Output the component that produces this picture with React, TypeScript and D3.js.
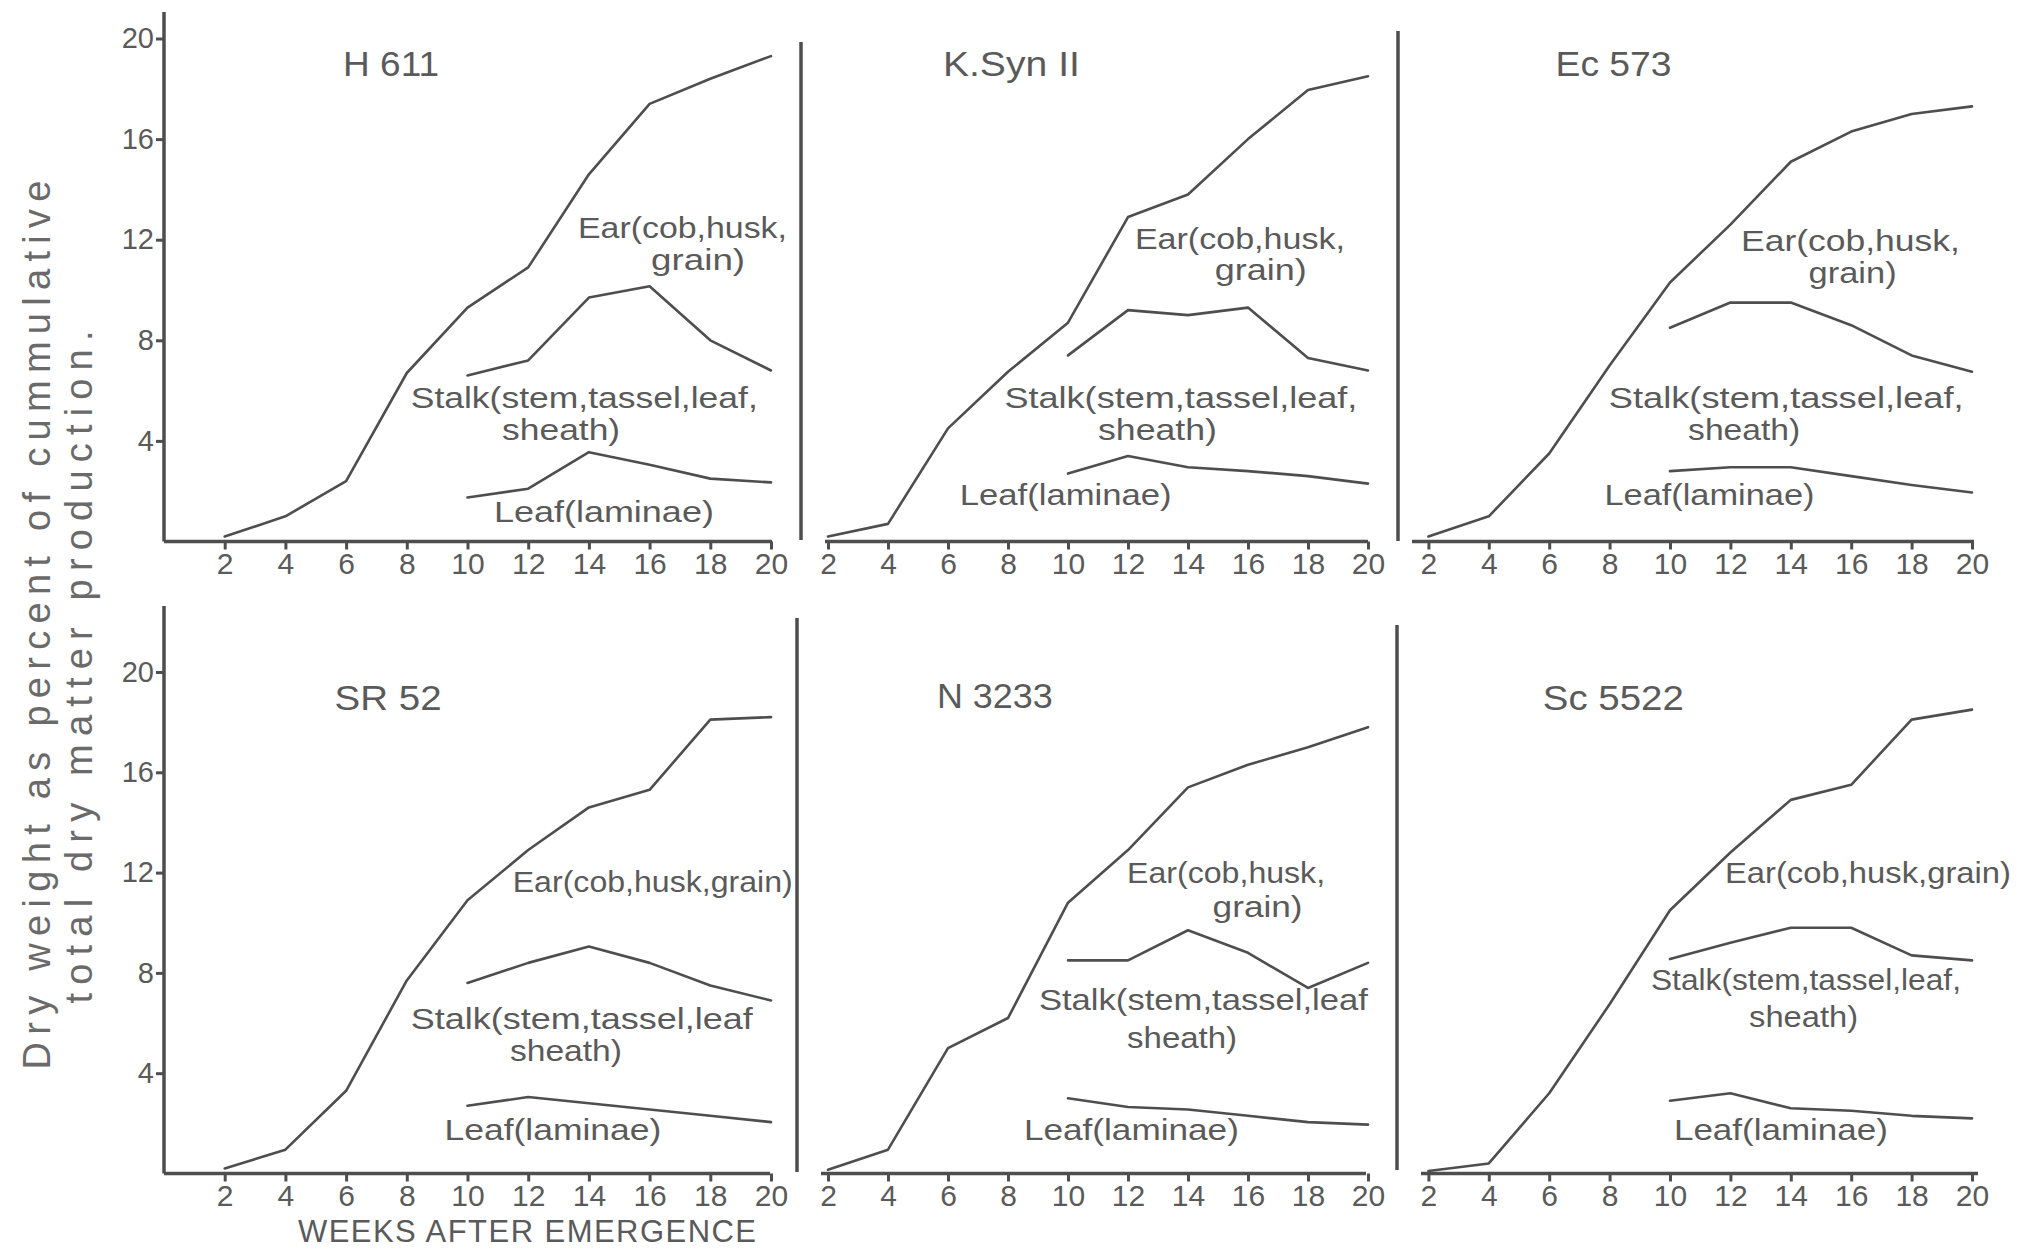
import React, { useEffect, useRef } from "react";
import * as d3 from "d3";

// ---------- DATA ----------
const weeks = [2, 4, 6, 8, 10, 12, 14, 16, 18, 20];
const laterWeeks = [10, 12, 14, 16, 18, 20];
const xTickValues = [2, 4, 6, 8, 10, 12, 14, 16, 18, 20];
const yTickValues = [4, 8, 12, 16, 20];
const varieties = ["H 611", "K.Syn II", "Ec 573", "SR 52", "N 3233", "Sc 5522"];

const earH611 = [0.2, 1.0, 2.4, 6.7, 9.3, 10.9, 14.6, 17.4, 18.4, 19.3];
const stalkH611 = [6.6, 7.2, 9.7, 10.15, 8.0, 6.8];
const leafH611 = [1.75, 2.1, 3.55, 3.05, 2.5, 2.35];

const earKSyn = [0.2, 0.7, 4.5, 6.75, 8.7, 12.9, 13.8, 16.0, 17.95, 18.5];
const stalkKSyn = [7.4, 9.2, 9.0, 9.3, 7.3, 6.8];
const leafKSyn = [2.7, 3.4, 2.95, 2.8, 2.6, 2.3];

const earEc573 = [0.2, 1.0, 3.5, 7.0, 10.3, 12.6, 15.1, 16.3, 17.0, 17.3];
const stalkEc573 = [8.5, 9.5, 9.5, 8.6, 7.4, 6.75];
const leafEc573 = [2.8, 2.95, 2.95, 2.6, 2.25, 1.95];

const earSR52 = [0.2, 0.95, 3.3, 7.7, 10.9, 12.9, 14.6, 15.3, 18.1, 18.2];
const stalkSR52 = [7.6, 8.4, 9.05, 8.4, 7.5, 6.9];
const leafSR52 = [2.7, 3.05, 2.8, 2.55, 2.3, 2.05];

const earN3233 = [0.15, 0.95, 5.0, 6.2, 10.8, 12.9, 15.4, 16.3, 17.0, 17.8];
const stalkN3233 = [8.5, 8.5, 9.7, 8.8, 7.4, 8.4];
const leafN3233 = [3.0, 2.65, 2.55, 2.3, 2.05, 1.95];

const earSc5522 = [0.1, 0.4, 3.2, 6.75, 10.5, 12.8, 14.9, 15.5, 18.1, 18.5];
const stalkSc5522 = [8.55, 9.2, 9.8, 9.8, 8.7, 8.5];
const leafSc5522 = [2.9, 3.2, 2.6, 2.5, 2.3, 2.2];

const earSeries = [earH611, earKSyn, earEc573, earSR52, earN3233, earSc5522];
const stalkSeries = [stalkH611, stalkKSyn, stalkEc573, stalkSR52, stalkN3233, stalkSc5522];
const leafSeries = [leafH611, leafKSyn, leafEc573, leafSR52, leafN3233, leafSc5522];

const yTitle1 = "Dry weight as percent of cummulative";
const yTitle2 = "total dry matter production.";
const xTitle = "WEEKS AFTER EMERGENCE";

// ---------- LAYOUT / STYLE ----------
const FONT = "'Liberation Sans', Arial, sans-serif";
const TEXT = "#5a5a5a";
const LINE = "#4e4e4e";

const colRanges = [
  [164, 771],
  [768, 1368],
  [1368, 1972],
];
const rowRanges = [
  [541.5, 38.5],
  [1173.5, 672],
];

// frame: vertical line (x, y1, y2) and baseline (x1, x2)
const frames = [
  { vx: 164, vy1: 12, vy2: 541.5, hx1: 164, hx2: 772 },
  { vx: 801, vy1: 42, vy2: 540, hx1: 825, hx2: 1368 },
  { vx: 1398, vy1: 31, vy2: 541, hx1: 1412, hx2: 1974 },
  { vx: 164, vy1: 606, vy2: 1173.5, hx1: 164, hx2: 770 },
  { vx: 797, vy1: 618, vy2: 1172, hx1: 821, hx2: 1366 },
  { vx: 1397, vy1: 625, vy2: 1170, hx1: 1421, hx2: 1978 },
];

// label anchors in data units (week, value) with target text length
const titleAnchors = [
  { w: 5.9, v: 18.49, len: 96 },
  { w: 5.83, v: 18.49, len: 137 },
  { w: 6.21, v: 18.49, len: 116 },
  { w: 5.62, v: 18.48, len: 107 },
  { w: 5.63, v: 18.56, len: 116 },
  { w: 5.79, v: 18.48, len: 141 },
];

const seriesLabels = [
  [
    { t: "Ear(cob,husk,", w: 13.64, v: 12.05, len: 209 },
    { t: "grain)", w: 16.05, v: 10.78, len: 94 },
    { t: "Stalk(stem,tassel,leaf,", w: 8.13, v: 5.32, len: 347 },
    { t: "sheath)", w: 11.14, v: 4.04, len: 118 },
    { t: "Leaf(laminae)", w: 10.87, v: 0.78, len: 220 },
  ],
  [
    { t: "Ear(cob,husk,", w: 12.23, v: 11.64, len: 210 },
    { t: "grain)", w: 14.89, v: 10.38, len: 92 },
    { t: "Stalk(stem,tassel,leaf,", w: 7.88, v: 5.32, len: 353 },
    { t: "sheath)", w: 11.0, v: 4.04, len: 119 },
    { t: "Leaf(laminae)", w: 6.39, v: 1.45, len: 212 },
  ],
  [
    { t: "Ear(cob,husk,", w: 12.35, v: 11.56, len: 219 },
    { t: "grain)", w: 14.59, v: 10.28, len: 88 },
    { t: "Stalk(stem,tassel,leaf,", w: 7.97, v: 5.32, len: 355 },
    { t: "sheath)", w: 10.6, v: 4.04, len: 112 },
    { t: "Leaf(laminae)", w: 7.83, v: 1.45, len: 210 },
  ],
  [
    { t: "Ear(cob,husk,grain)", w: 11.49, v: 11.23, len: 280 },
    { t: "Stalk(stem,tassel,leaf", w: 8.13, v: 5.77, len: 342 },
    { t: "sheath)", w: 11.4, v: 4.49, len: 112 },
    { t: "Leaf(laminae)", w: 9.24, v: 1.34, len: 217 },
  ],
  [
    { t: "Ear(cob,husk,", w: 11.97, v: 11.57, len: 198 },
    { t: "grain)", w: 14.82, v: 10.21, len: 90 },
    { t: "Stalk(stem,tassel,leaf", w: 9.03, v: 6.54, len: 329 },
    { t: "sheath)", w: 11.97, v: 5.0, len: 110 },
    { t: "Leaf(laminae)", w: 8.53, v: 1.34, len: 215 },
  ],
  [
    { t: "Ear(cob,husk,grain)", w: 11.82, v: 11.57, len: 286 },
    { t: "Stalk(stem,tassel,leaf,", w: 9.37, v: 7.32, len: 310 },
    { t: "sheath)", w: 12.62, v: 5.86, len: 109 },
    { t: "Leaf(laminae)", w: 10.13, v: 1.34, len: 214 },
  ],
];

type Pt = { w: number; v: number };

function XAxis({ scale, y }: { scale: d3.ScaleLinear<number, number>; y: number }) {
  const ref = useRef<SVGGElement>(null);
  useEffect(() => {
    const g = d3.select(ref.current as SVGGElement);
    g.call(
      d3
        .axisBottom(scale)
        .tickValues(xTickValues)
        .tickSize(8)
        .tickPadding(3)
        .tickFormat(d3.format("d") as any)
    );
    g.select(".domain").remove();
    g.selectAll(".tick line").attr("stroke", LINE).attr("stroke-width", 3);
    g.selectAll(".tick text")
      .attr("fill", TEXT)
      .attr("font-size", 30)
      .attr("font-family", FONT);
  }, [scale]);
  return <g ref={ref} transform={`translate(0,${y})`} />;
}

function YAxis({ scale, x }: { scale: d3.ScaleLinear<number, number>; x: number }) {
  const ref = useRef<SVGGElement>(null);
  useEffect(() => {
    const g = d3.select(ref.current as SVGGElement);
    g.call(
      d3
        .axisLeft(scale)
        .tickValues(yTickValues)
        .tickSize(8)
        .tickPadding(2)
        .tickFormat(d3.format("d") as any)
    );
    g.select(".domain").remove();
    g.selectAll(".tick line").attr("stroke", LINE).attr("stroke-width", 3);
    g.selectAll(".tick text")
      .attr("fill", TEXT)
      .attr("font-size", 29)
      .attr("font-family", FONT);
  }, [scale]);
  return <g ref={ref} transform={`translate(${x},0)`} />;
}

function Panel({ i }: { i: number }) {
  const col = i % 3;
  const row = Math.floor(i / 3);
  const x = d3.scaleLinear().domain([0, 20]).range(colRanges[col]);
  const y = d3.scaleLinear().domain([0, 20]).range(rowRanges[row]);
  const line = d3
    .line<Pt>()
    .x((d) => x(d.w))
    .y((d) => y(d.v));
  const ear: Pt[] = weeks.map((w, k) => ({ w, v: earSeries[i][k] }));
  const stalk: Pt[] = laterWeeks.map((w, k) => ({ w, v: stalkSeries[i][k] }));
  const leaf: Pt[] = laterWeeks.map((w, k) => ({ w, v: leafSeries[i][k] }));
  const f = frames[i];
  const ta = titleAnchors[i];
  return (
    <g>
      <line x1={f.vx} x2={f.vx} y1={f.vy1} y2={f.vy2} stroke={LINE} strokeWidth={3.5} />
      <line x1={f.hx1} x2={f.hx2} y1={y(0)} y2={y(0)} stroke={LINE} strokeWidth={3.5} />
      <XAxis scale={x} y={y(0)} />
      {col === 0 && <YAxis scale={y} x={x(0)} />}
      {[ear, stalk, leaf].map((s, k) => (
        <path
          key={k}
          d={line(s) || ""}
          fill="none"
          stroke={LINE}
          strokeWidth={2.6}
          strokeLinejoin="round"
          strokeLinecap="round"
        />
      ))}
      <text
        x={x(ta.w)}
        y={y(ta.v)}
        fontSize={35}
        fontFamily={FONT}
        fill={TEXT}
        textLength={ta.len}
        lengthAdjust="spacingAndGlyphs"
      >
        {varieties[i]}
      </text>
      {seriesLabels[i].map((l, k) => (
        <text
          key={k}
          x={x(l.w)}
          y={y(l.v)}
          fontSize={29}
          fontFamily={FONT}
          fill={TEXT}
          textLength={l.len}
          lengthAdjust="spacingAndGlyphs"
        >
          {l.t}
        </text>
      ))}
    </g>
  );
}

export default function App() {
  return (
    <div style={{ position: "absolute", left: 0, top: 0, background: "#fff" }}>
      <svg width={2020} height={1250} viewBox="0 0 2020 1250" style={{ display: "block" }}>
        <rect x={0} y={0} width={2020} height={1250} fill="#fff" />
        {varieties.map((_, i) => (
          <Panel key={i} i={i} />
        ))}
        <text
          transform="translate(50,625) rotate(-90)"
          textAnchor="middle"
          fontSize={38}
          fontFamily={FONT}
          fill="#6a6a6a"
          textLength={889}
          lengthAdjust="spacing"
        >
          {yTitle1}
        </text>
        <text
          transform="translate(92,667) rotate(-90)"
          textAnchor="middle"
          fontSize={38}
          fontFamily={FONT}
          fill="#6a6a6a"
          textLength={673}
          lengthAdjust="spacing"
        >
          {yTitle2}
        </text>
        <text
          x={527}
          y={1242}
          textAnchor="middle"
          fontSize={31}
          fontFamily={FONT}
          fill={TEXT}
          textLength={458}
          lengthAdjust="spacing"
        >
          {xTitle}
        </text>
      </svg>
    </div>
  );
}
